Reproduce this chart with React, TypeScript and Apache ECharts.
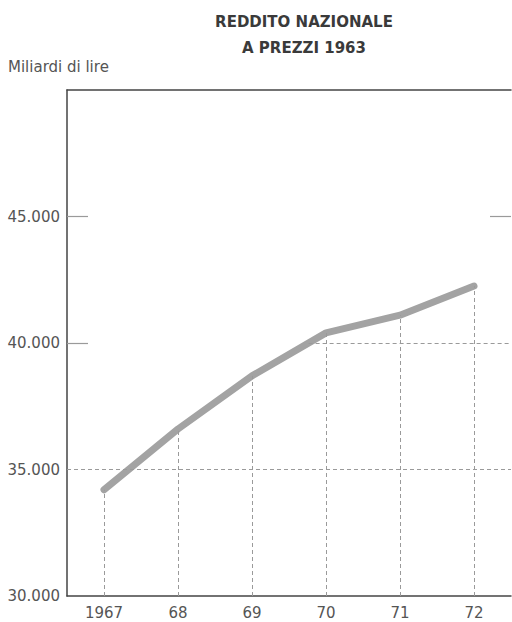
import React, { useEffect, useRef } from "react";
import * as echarts from "echarts";

const categories = ["1967", "68", "69", "70", "71", "72"];
const values = [34200, 36600, 38700, 40400, 41100, 42250];
const yTicks = [30000, 35000, 40000, 45000, 50000];
const titleLines = ["REDDITO NAZIONALE", "A PREZZI 1963"];
const unitLabel = "Miliardi di lire";
// partial gridlines: [level, fromIndex, toIndex]
const gridSegments: [number, number, number][] = [
  [35000, -0.5, 5.5],
  [40000, 2.765, 5.5],
];
// short inside ticks: [level, side]
const shortTicks: [number, "left" | "right"][] = [
  [40000, "left"],
  [45000, "left"],
  [45000, "right"],
];

const fmt = (v: number) => {
  const s = String(v);
  return s.replace(/\B(?=(\d{3})+(?!\d))/g, ".");
};

export default function App() {
  const ref = useRef<HTMLDivElement>(null);
  useEffect(() => {
    if (!ref.current) return;
    const chart = echarts.init(ref.current, undefined, { renderer: "svg" });
    const font = "DejaVu Sans";
    const dash = { type: [4, 3] as any, color: "#9a9a9a", width: 1 };
    const tickLen = 21 / 74;
    const markData: any[] = [];
    gridSegments.forEach(([lvl, a, b]) => {
      markData.push([{ coord: [a, lvl] }, { coord: [b, lvl] }]);
    });
    values.forEach((v, i) => {
      markData.push([{ coord: [i, yTicks[0]] }, { coord: [i, v] }]);
    });
    shortTicks.forEach(([lvl, side]) => {
      const a = side === "left" ? -0.5 : 5.5 - tickLen;
      const b = side === "left" ? -0.5 + tickLen : 5.5;
      markData.push([
        { coord: [a, lvl], lineStyle: { type: "solid", color: "#9a9a9a", width: 1.2 } },
        { coord: [b, lvl] },
      ]);
    });
    chart.setOption({
      animation: false,
      backgroundColor: "#ffffff",
      title: {
        text: titleLines.join("\n"),
        left: 299,
        top: 4,
        textAlign: "center",
        textStyle: {
          fontFamily: font,
          fontSize: 15,
          fontWeight: "bold",
          color: "#3a3a3a",
          lineHeight: 26,
        },
      },
      graphic: [
        {
          type: "text",
          left: 8,
          top: 59,
          style: {
            text: unitLabel,
            fontFamily: font,
            fontSize: 15,
            fill: "#555",
          },
        },
      ],
      grid: { left: 67, top: 90, width: 444, height: 506 },
      xAxis: [
        {
          type: "category",
          data: categories,
          boundaryGap: true,
          position: "bottom",
          axisLine: { onZero: false, lineStyle: { color: "#444", width: 1.5 } },
          axisTick: { show: false },
          axisLabel: { fontFamily: font, fontSize: 15, color: "#555", margin: 9 },
          splitLine: { show: false },
        },
        {
          type: "value",
          min: -0.5,
          max: 5.5,
          position: "top",
          axisLine: { show: true, onZero: false, lineStyle: { color: "#444", width: 1.5 } },
          axisTick: { show: false },
          axisLabel: { show: false },
          splitLine: { show: false },
        },
      ],
      yAxis: [
        {
          type: "value",
          min: 30000,
          max: 50000,
          interval: 5000,
          position: "left",
          axisLine: { show: true, onZero: false, lineStyle: { color: "#444", width: 1.5 } },
          axisTick: { show: false },
          axisLabel: {
            fontFamily: font,
            fontSize: 15,
            color: "#555",
            margin: 7,
            showMaxLabel: false,
            formatter: (v: number) => fmt(v),
          },
          splitLine: { show: false },
        },
      ],
      series: [
        {
          type: "line",
          xAxisIndex: 1,
          yAxisIndex: 0,
          data: [],
          z: 1,
          silent: true,
          markLine: {
            symbol: "none",
            silent: true,
            label: { show: false },
            lineStyle: dash,
            data: markData,
          },
        },
        {
          type: "line",
          xAxisIndex: 0,
          yAxisIndex: 0,
          data: values,
          symbol: "none",
          z: 3,
          lineStyle: { color: "#ffffff", width: 15, cap: "round", join: "round" },
        },
        {
          type: "line",
          xAxisIndex: 0,
          yAxisIndex: 0,
          data: values,
          symbol: "none",
          z: 4,
          lineStyle: { color: "#a3a3a3", width: 7, cap: "round", join: "round" },
        },
      ],
    });
    return () => chart.dispose();
  }, []);
  return (
    <div
      ref={ref}
      style={{ position: "fixed", left: 0, top: 0, width: 512, height: 622 }}
    />
  );
}
